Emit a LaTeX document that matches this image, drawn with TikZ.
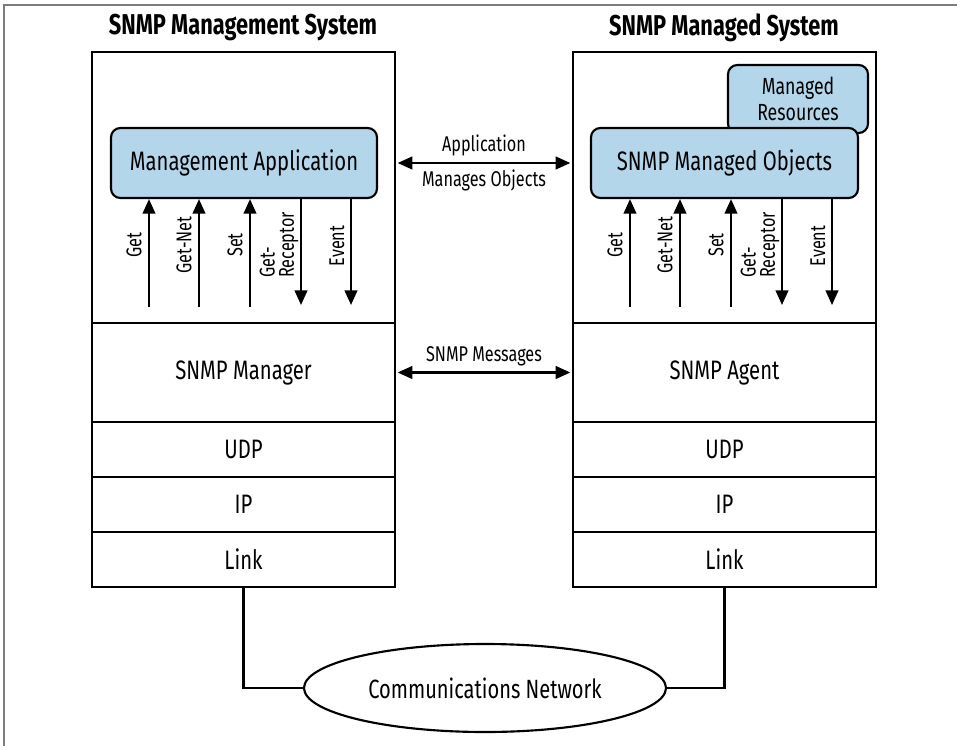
\documentclass[tikz,border=0pt]{standalone}
\usepackage{fontspec}
\setmainfont[FakeStretch=0.76]{Fira Sans}
\usetikzlibrary{arrows.meta,positioning,shapes.geometric}
\definecolor{objblue}{RGB}{180,214,234}
\definecolor{framegray}{RGB}{125,125,125}
\tikzset{
  layer/.style={draw,line width=1.6pt,minimum width=227.25pt,inner sep=0pt,outer sep=0pt,
    font=\fontsize{20}{22}\selectfont},
  objbox/.style={draw,line width=1.6pt,fill=objblue,rounded corners=7pt,inner sep=0pt,
    font=\fontsize{20}{22}\selectfont},
  systitle/.style={font=\bfseries\fontsize{21.5}{24}\selectfont},
  sig/.style={line width=1.6pt,-{Triangle[length=11pt,width=9.5pt]}},
  sigtext/.style={rotate=90,inner sep=0pt,font=\fontsize{16}{14.5}\selectfont},
  link/.style={line width=1.6pt,{Triangle[length=11pt,width=9.5pt]}-{Triangle[length=11pt,width=9.5pt]},
    shorten <=2pt,shorten >=2pt},
  linktext/.style={font=\fontsize{16}{18}\selectfont},
  wire/.style={line width=1.6pt}
}
\begin{document}
\begin{tikzpicture}[x=0.75pt,y=-0.75pt]
\useasboundingbox (0,0) rectangle (957,746);
\draw[framegray,line width=1.5pt] (4,746) -- (4,5) -- (957,5);
\node[systitle] (mtitle) at (243,28) {SNMP Management System};
\node[systitle] (otitle) at (724,28) {SNMP Managed System};
\node[layer,minimum height=203.25pt] (mapp) at (243.5,187.5) {};
\node[layer,minimum height=74.25pt,below=0pt of mapp] (mmgr) {SNMP Manager};
\node[layer,minimum height=41.25pt,below=0pt of mmgr] (mudp) {UDP};
\node[layer,minimum height=41.25pt,below=0pt of mudp] (mip) {IP};
\node[layer,minimum height=41.25pt,below=0pt of mip] (mlink) {Link};
\node[layer,minimum height=203.25pt] (oapp) at (724.5,187.5) {};
\node[layer,minimum height=74.25pt,below=0pt of oapp] (omgr) {SNMP Agent};
\node[layer,minimum height=41.25pt,below=0pt of omgr] (oudp) {UDP};
\node[layer,minimum height=41.25pt,below=0pt of oudp] (oip) {IP};
\node[layer,minimum height=41.25pt,below=0pt of oip] (olink) {Link};
\node[objbox,minimum width=199.5pt,minimum height=52.5pt] (mobj) at (244,163) {Management Application};
\node[objbox,minimum width=105pt,minimum height=51pt,align=center,
  font=\fontsize{17.5}{19}\selectfont] (ores) at (798,99) {Managed\\Resources};
\node[objbox,minimum width=200.25pt,minimum height=52.5pt] (oobj) at (724.5,163) {SNMP Managed Objects};
\foreach \s/\dx in {m/0,o/481}{
  \foreach \x/\t in {149/Get,199/Get-Net,250/Set}{
    \draw[sig] (\x+\dx,307) -- (\x+\dx,0 |- \s obj.south);
    \node[sigtext] at (\x+\dx-15,245) {\t};
  }
  \foreach \x in {301,351}
    \draw[sig] (\x+\dx,0 |- \s obj.south) -- (\x+\dx,305);
  \node[sigtext,anchor=west,align=left] at (279+\dx,278) {Get-\\Receptor};
  \node[sigtext] at (337+\dx,246) {Event};
}
\draw[link] (mapp.east |- mobj.center) -- (oapp.west |- oobj.center)
  node[linktext,midway,above=1pt] {Application}
  node[linktext,midway,below=1pt] {Manages Objects};
\draw[link] (mmgr.east) -- (omgr.west)
  node[linktext,midway,above=1pt] {SNMP Messages};
\node[draw,ellipse,line width=1.6pt,minimum width=271.5pt,minimum height=66pt,inner sep=0pt,
  font=\fontsize{19.8}{22}\selectfont] (net) at (485,688) {Communications Network};
\draw[wire] (mlink.south) |- (net.west);
\draw[wire] (olink.south) |- (net.east);
\end{tikzpicture}
\end{document}
